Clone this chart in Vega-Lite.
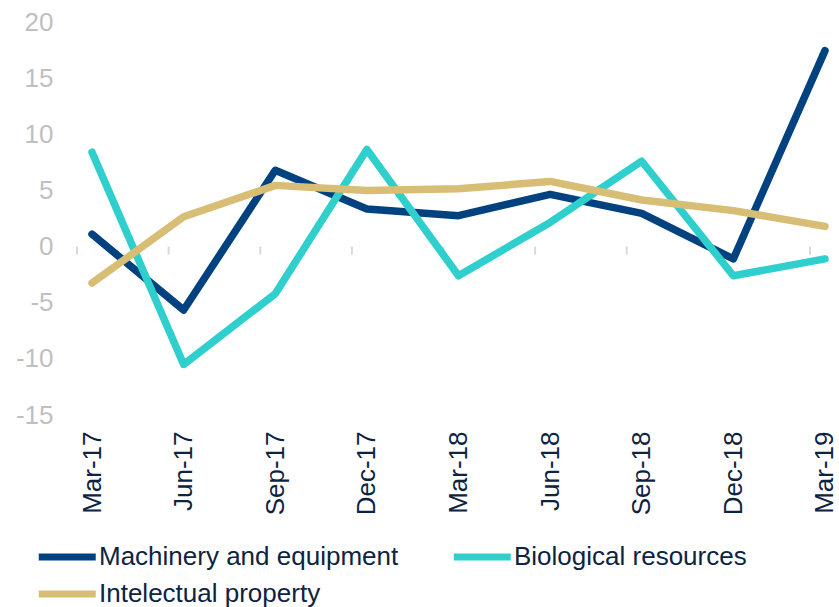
{
  "$schema": "https://vega.github.io/schema/vega-lite/v6.json",
  "width": 763,
  "height": 393,
  "autosize": {"type": "none"},
  "padding": {"left": 77, "top": 22, "right": 0, "bottom": 192},
  "background": "white",
  "config": {
    "view": {"stroke": null},
    "font": "Liberation Sans"
  },
  "datasets": {
    "series": [
      {"quarter": "Mar-17", "series": "Machinery and equipment", "value": 1.1},
      {"quarter": "Jun-17", "series": "Machinery and equipment", "value": -5.65},
      {"quarter": "Sep-17", "series": "Machinery and equipment", "value": 6.8},
      {"quarter": "Dec-17", "series": "Machinery and equipment", "value": 3.35},
      {"quarter": "Mar-18", "series": "Machinery and equipment", "value": 2.75},
      {"quarter": "Jun-18", "series": "Machinery and equipment", "value": 4.65},
      {"quarter": "Sep-18", "series": "Machinery and equipment", "value": 2.95},
      {"quarter": "Dec-18", "series": "Machinery and equipment", "value": -1.1},
      {"quarter": "Mar-19", "series": "Machinery and equipment", "value": 17.45},
      {"quarter": "Mar-17", "series": "Biological resources", "value": 8.4},
      {"quarter": "Jun-17", "series": "Biological resources", "value": -10.5},
      {"quarter": "Sep-17", "series": "Biological resources", "value": -4.2},
      {"quarter": "Dec-17", "series": "Biological resources", "value": 8.65},
      {"quarter": "Mar-18", "series": "Biological resources", "value": -2.6},
      {"quarter": "Jun-18", "series": "Biological resources", "value": 2.15},
      {"quarter": "Sep-18", "series": "Biological resources", "value": 7.6},
      {"quarter": "Dec-18", "series": "Biological resources", "value": -2.6},
      {"quarter": "Mar-19", "series": "Biological resources", "value": -1.1},
      {"quarter": "Mar-17", "series": "Intelectual property", "value": -3.25},
      {"quarter": "Jun-17", "series": "Intelectual property", "value": 2.65},
      {"quarter": "Sep-17", "series": "Intelectual property", "value": 5.45},
      {"quarter": "Dec-17", "series": "Intelectual property", "value": 5.0},
      {"quarter": "Mar-18", "series": "Intelectual property", "value": 5.15},
      {"quarter": "Jun-18", "series": "Intelectual property", "value": 5.8},
      {"quarter": "Sep-18", "series": "Intelectual property", "value": 4.15},
      {"quarter": "Dec-18", "series": "Intelectual property", "value": 3.2},
      {"quarter": "Mar-19", "series": "Intelectual property", "value": 1.8}
    ],
    "quarters": [
      {"quarter": "Mar-17"}, {"quarter": "Jun-17"}, {"quarter": "Sep-17"},
      {"quarter": "Dec-17"}, {"quarter": "Mar-18"}, {"quarter": "Jun-18"},
      {"quarter": "Sep-18"}, {"quarter": "Dec-18"}, {"quarter": "Mar-19"}
    ]
  },
  "layer": [
    {
      "mark": {"type": "rule", "stroke": "#d9d9d9", "strokeWidth": 2},
      "encoding": {
        "y": {"datum": 0, "type": "quantitative", "scale": {"domain": [-15, 20], "nice": false, "zero": false}}
      }
    },
    {
      "data": {"name": "quarters"},
      "mark": {"type": "rule", "stroke": "#d9d9d9", "strokeWidth": 2, "xOffset": -15},
      "encoding": {
        "x": {"field": "quarter", "type": "ordinal",
              "sort": ["Mar-17","Jun-17","Sep-17","Dec-17","Mar-18","Jun-18","Sep-18","Dec-18","Mar-19"],
              "scale": {"type": "point", "padding": 0.164},
              "axis": {"title": null, "labelAngle": -90, "domain": false, "ticks": false, "tickSize": 0,
                       "grid": false, "labelPadding": 16, "labelFontSize": 26, "labelColor": "#0d2342",
                       "labelFont": "Liberation Sans"}},
        "y": {"datum": 0, "type": "quantitative"},
        "y2": {"datum": -0.72}
      }
    },
    {
      "data": {"name": "series"},
      "mark": {"type": "line", "strokeWidth": 7.5, "strokeCap": "round", "strokeJoin": "round"},
      "encoding": {
        "x": {"field": "quarter", "type": "ordinal",
              "sort": ["Mar-17","Jun-17","Sep-17","Dec-17","Mar-18","Jun-18","Sep-18","Dec-18","Mar-19"],
              "scale": {"type": "point", "padding": 0.164},
              "axis": {"title": null, "labelAngle": -90, "domain": false, "ticks": false, "tickSize": 0,
                       "grid": false, "labelPadding": 16, "labelFontSize": 26, "labelColor": "#0d2342",
                       "labelFont": "Liberation Sans"}},
        "y": {"field": "value", "type": "quantitative",
              "scale": {"domain": [-15, 20], "nice": false, "zero": false},
              "axis": {"title": null, "values": [-15, -10, -5, 0, 5, 10, 15, 20], "domain": false,
                       "ticks": false, "tickSize": 0, "grid": false, "labelPadding": 24,
                       "labelExpr": "replace(datum.label, '−', '-')",
                       "labelFontSize": 26, "labelColor": "#bfbfbf", "labelFont": "Liberation Sans"}},
        "color": {"field": "series", "type": "nominal",
                  "scale": {"domain": ["Machinery and equipment", "Biological resources", "Intelectual property"],
                            "range": ["#00427f", "#2ecfcd", "#d8bd74"]},
                  "legend": {"title": null, "orient": "none", "legendX": -42, "legendY": 517,
                             "padding": 0,
                             "direction": "horizontal", "columns": 2, "columnPadding": 40, "rowPadding": 5,
                             "symbolType": "M-1,0H3", "symbolSize": 812, "symbolStrokeWidth": 7,
                             "labelFontSize": 26, "labelColor": "#0d2342", "labelOffset": 28, "labelLimit": 600,
                             "labelFont": "Liberation Sans"}}
      }
    }
  ]
}
